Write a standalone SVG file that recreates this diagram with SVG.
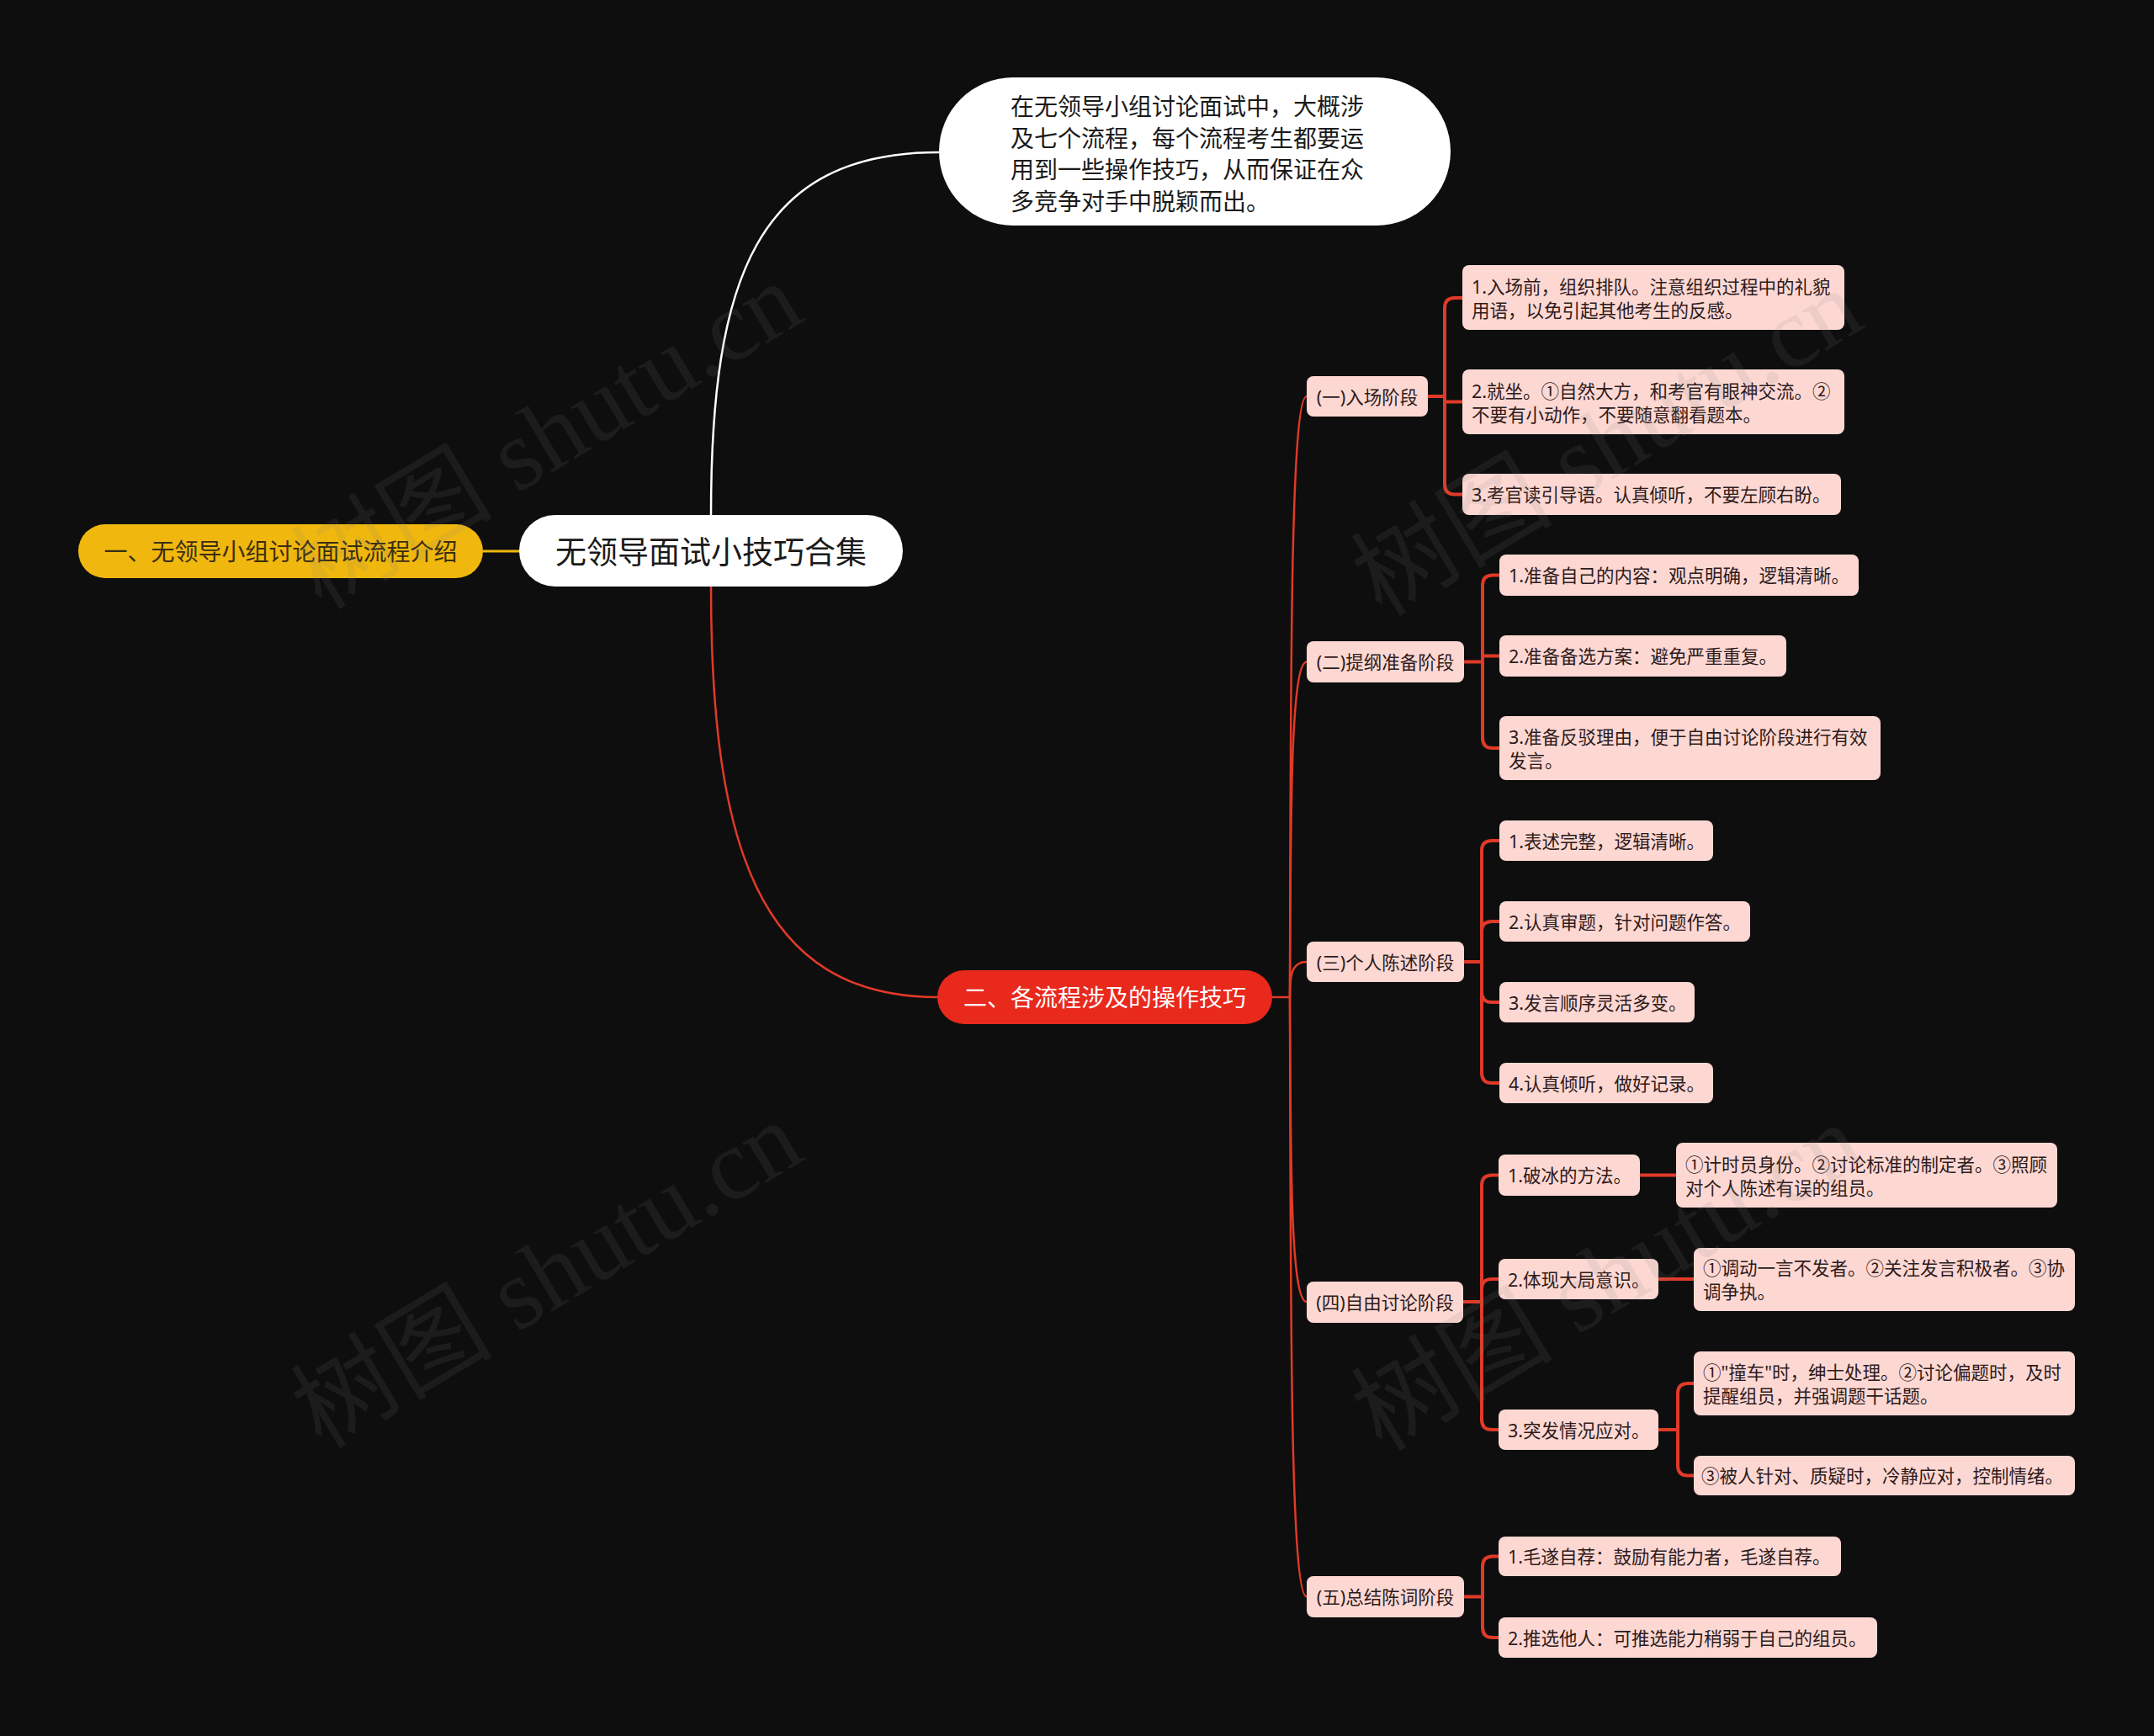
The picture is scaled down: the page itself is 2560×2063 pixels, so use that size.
<svg xmlns="http://www.w3.org/2000/svg" width="2560" height="2063" viewBox="0 0 2560 2063">
<style>
  text { font-family: "Noto Sans", "Noto Sans CJK SC", sans-serif; }
  .leaf { fill: #fdd8d3; }
  .lt { font-size: 21.5px; fill: #2e1a1a; dominant-baseline: central; }
  .st { font-size: 21.5px; fill: #2e1a1a; dominant-baseline: central; text-anchor: middle; }
  .br { fill: none; stroke: #e03a28; stroke-width: 4; stroke-linecap: round; stroke-linejoin: round; }
  .sp { fill: none; stroke: #e03a28; stroke-width: 2.5; }
  .wm { font-family: "Liberation Serif", "Noto Sans CJK SC", serif; font-size: 120px; fill: #808080; opacity: 0.12; text-anchor: middle; dominant-baseline: central; }
</style>
<rect x="0" y="0" width="2560" height="2063" fill="#0e0e0e"/>

<g id="connectors">
  <path d="M574,655 H617" fill="none" stroke="#f0b70e" stroke-width="3"/>
  <path d="M845,612 C845,330 900,181 1116,181" fill="none" stroke="#ffffff" stroke-width="2.5"/>
  <path d="M845,697 C845,1000 900,1185 1114,1185" class="sp"/>
  <path d="M1512,1185 H1533" class="sp"/>
  <path d="M1533,1185 C1534,828 1533,471 1553,471" class="sp"/>
  <path d="M1533,1185 C1534,986 1533,786.5 1553,786.5" class="sp"/>
  <path d="M1533,1185 C1533,1164 1533,1143 1553,1143" class="sp"/>
  <path d="M1533,1185 C1534,1366 1533,1547 1553,1547" class="sp"/>
  <path d="M1533,1185 C1534,1541 1533,1897.5 1553,1897.5" class="sp"/>
  <!-- stage 1 -->
  <path d="M1697,471 H1717" class="br"/>
  <path d="M1717,471 V366 Q1717,354 1729,354 H1738" class="br"/>
  <path d="M1717,471 V477.5 H1738" class="br"/>
  <path d="M1717,471 V575.5 Q1717,587.5 1729,587.5 H1738" class="br"/>
  <!-- stage 2 -->
  <path d="M1740,786.5 H1762" class="br"/>
  <path d="M1762,786.5 V695.5 Q1762,683.5 1774,683.5 H1782" class="br"/>
  <path d="M1762,786.5 V779.5 H1782" class="br"/>
  <path d="M1762,786.5 V877 Q1762,889 1774,889 H1782" class="br"/>
  <!-- stage 3 -->
  <path d="M1740,1143 H1761" class="br"/>
  <path d="M1761,1143 V1011 Q1761,999 1773,999 H1782" class="br"/>
  <path d="M1761,1143 V1107 Q1761,1095 1773,1095 H1782" class="br"/>
  <path d="M1761,1143 V1179 Q1761,1191 1773,1191 H1782" class="br"/>
  <path d="M1761,1143 V1275 Q1761,1287 1773,1287 H1782" class="br"/>
  <!-- stage 4 -->
  <path d="M1739,1547 H1761" class="br"/>
  <path d="M1761,1547 V1408.5 Q1761,1396.5 1773,1396.5 H1781" class="br"/>
  <path d="M1761,1547 V1532 Q1761,1520 1773,1520 H1781" class="br"/>
  <path d="M1761,1547 V1687 Q1761,1699 1773,1699 H1781" class="br"/>
  <path d="M1949,1396.5 H1992" class="br"/>
  <path d="M1971,1520 H2013" class="br"/>
  <path d="M1971,1699 H1994" class="br"/>
  <path d="M1994,1699 V1656 Q1994,1644 2006,1644 H2013" class="br"/>
  <path d="M1994,1699 V1741.5 Q1994,1753.5 2006,1753.5 H2013" class="br"/>
  <!-- stage 5 -->
  <path d="M1740,1897.5 H1762" class="br"/>
  <path d="M1762,1897.5 V1861.5 Q1762,1849.5 1774,1849.5 H1781" class="br"/>
  <path d="M1762,1897.5 V1934 Q1762,1946 1774,1946 H1781" class="br"/>
</g>

<g id="root">
  <rect x="617" y="612" width="456" height="85" rx="42.5" fill="#ffffff"/>
  <text x="845" y="655" font-size="37" fill="#1a1a1a" text-anchor="middle" dominant-baseline="central">无领导面试小技巧合集</text>
</g>
<g id="intro">
  <rect x="1116" y="92" width="608" height="176" rx="88" fill="#ffffff"/>
  <text font-size="28" fill="#1a1a1a" dominant-baseline="central">
    <tspan x="1201" y="126">在无领导小组讨论面试中，大概涉</tspan>
    <tspan x="1201" y="163.5">及七个流程，每个流程考生都要运</tspan>
    <tspan x="1201" y="201">用到一些操作技巧，从而保证在众</tspan>
    <tspan x="1201" y="238.5">多竞争对手中脱颖而出。</tspan>
  </text>
</g>
<g id="branch1">
  <rect x="93" y="623" width="481" height="64" rx="32" fill="#f0b70e"/>
  <text x="333.5" y="655" font-size="28" fill="#3a2e12" text-anchor="middle" dominant-baseline="central">一、无领导小组讨论面试流程介绍</text>
</g>
<g id="branch2">
  <rect x="1114" y="1153" width="398" height="64" rx="32" fill="#e8291c"/>
  <text x="1313" y="1185" font-size="28" fill="#ffffff" text-anchor="middle" dominant-baseline="central">二、各流程涉及的操作技巧</text>
</g>

<g id="stage1">
  <rect class="leaf" x="1553" y="447" width="144" height="48" rx="8"/>
  <text class="st" x="1625" y="471">(一)入场阶段</text>
</g>
<g id="s1l1">
  <rect class="leaf" x="1738" y="315" width="454" height="77" rx="8"/>
  <text class="lt"><tspan x="1749" y="340">1.入场前，组织排队。注意组织过程中的礼貌</tspan><tspan x="1749" y="368">用语，以免引起其他考生的反感。</tspan></text>
</g>
<g id="s1l2">
  <rect class="leaf" x="1738" y="439" width="454" height="77" rx="8"/>
  <text class="lt"><tspan x="1749" y="463.5">2.就坐。①自然大方，和考官有眼神交流。②</tspan><tspan x="1749" y="491.5">不要有小动作，不要随意翻看题本。</tspan></text>
</g>
<g id="s1l3">
  <rect class="leaf" x="1738" y="563" width="450" height="49" rx="8"/>
  <text class="lt" x="1749" y="587.5">3.考官读引导语。认真倾听，不要左顾右盼。</text>
</g>

<g id="stage2">
  <rect class="leaf" x="1553" y="762" width="187" height="49" rx="8"/>
  <text class="st" x="1646.5" y="786.5">(二)提纲准备阶段</text>
</g>
<g id="s2l1">
  <rect class="leaf" x="1782" y="659" width="427" height="49" rx="8"/>
  <text class="lt" x="1793" y="683.5">1.准备自己的内容：观点明确，逻辑清晰。</text>
</g>
<g id="s2l2">
  <rect class="leaf" x="1782" y="755" width="341" height="49" rx="8"/>
  <text class="lt" x="1793" y="779.5">2.准备备选方案：避免严重重复。</text>
</g>
<g id="s2l3">
  <rect class="leaf" x="1782" y="851" width="453" height="76" rx="8"/>
  <text class="lt"><tspan x="1793" y="875">3.准备反驳理由，便于自由讨论阶段进行有效</tspan><tspan x="1793" y="903">发言。</tspan></text>
</g>

<g id="stage3">
  <rect class="leaf" x="1553" y="1119" width="187" height="48" rx="8"/>
  <text class="st" x="1646.5" y="1143">(三)个人陈述阶段</text>
</g>
<g id="s3l1">
  <rect class="leaf" x="1782" y="975" width="254" height="48" rx="8"/>
  <text class="lt" x="1793" y="999">1.表述完整，逻辑清晰。</text>
</g>
<g id="s3l2">
  <rect class="leaf" x="1782" y="1071" width="298" height="48" rx="8"/>
  <text class="lt" x="1793" y="1095">2.认真审题，针对问题作答。</text>
</g>
<g id="s3l3">
  <rect class="leaf" x="1782" y="1167" width="232" height="48" rx="8"/>
  <text class="lt" x="1793" y="1191">3.发言顺序灵活多变。</text>
</g>
<g id="s3l4">
  <rect class="leaf" x="1782" y="1263" width="254" height="48" rx="8"/>
  <text class="lt" x="1793" y="1287">4.认真倾听，做好记录。</text>
</g>

<g id="stage4">
  <rect class="leaf" x="1553" y="1523" width="186" height="49" rx="8"/>
  <text class="st" x="1646" y="1547.5">(四)自由讨论阶段</text>
</g>
<g id="s4a">
  <rect class="leaf" x="1781" y="1372" width="168" height="49" rx="8"/>
  <text class="lt" x="1792" y="1396.5">1.破冰的方法。</text>
</g>
<g id="s4a1">
  <rect class="leaf" x="1992" y="1358" width="453" height="77" rx="8"/>
  <text class="lt"><tspan x="2003" y="1382.5">①计时员身份。②讨论标准的制定者。③照顾</tspan><tspan x="2003" y="1410.5">对个人陈述有误的组员。</tspan></text>
</g>
<g id="s4b">
  <rect class="leaf" x="1781" y="1496" width="190" height="48" rx="8"/>
  <text class="lt" x="1792" y="1520">2.体现大局意识。</text>
</g>
<g id="s4b1">
  <rect class="leaf" x="2013" y="1483" width="453" height="75" rx="8"/>
  <text class="lt"><tspan x="2024" y="1506">①调动一言不发者。②关注发言积极者。③协</tspan><tspan x="2024" y="1534">调争执。</tspan></text>
</g>
<g id="s4c">
  <rect class="leaf" x="1781" y="1675" width="190" height="48" rx="8"/>
  <text class="lt" x="1792" y="1699">3.突发情况应对。</text>
</g>
<g id="s4c1">
  <rect class="leaf" x="2013" y="1606" width="453" height="76" rx="8"/>
  <text class="lt"><tspan x="2024" y="1630">①"撞车"时，绅士处理。②讨论偏题时，及时</tspan><tspan x="2024" y="1658">提醒组员，并强调题干话题。</tspan></text>
</g>
<g id="s4c2">
  <rect class="leaf" x="2013" y="1730" width="453" height="47" rx="8"/>
  <text class="lt" x="2022" y="1753.5">③被人针对、质疑时，冷静应对，控制情绪。</text>
</g>

<g id="stage5">
  <rect class="leaf" x="1553" y="1873" width="187" height="49" rx="8"/>
  <text class="st" x="1646.5" y="1897.5">(五)总结陈词阶段</text>
</g>
<g id="s5l1">
  <rect class="leaf" x="1781" y="1826" width="407" height="47" rx="8"/>
  <text class="lt" x="1792" y="1849.5">1.毛遂自荐：鼓励有能力者，毛遂自荐。</text>
</g>
<g id="s5l2">
  <rect class="leaf" x="1781" y="1922" width="450" height="48" rx="8"/>
  <text class="lt" x="1792" y="1946">2.推选他人：可推选能力稍弱于自己的组员。</text>
</g>

<g id="watermark">
  <text class="wm" transform="translate(650,518) rotate(-31)">树图 shutu.cn</text>
  <text class="wm" transform="translate(650,1515) rotate(-31)">树图 shutu.cn</text>
  <text class="wm" transform="translate(1910,526) rotate(-31)">树图 shutu.cn</text>
  <text class="wm" transform="translate(1910,1518) rotate(-31)">树图 shutu.cn</text>
</g>
</svg>
